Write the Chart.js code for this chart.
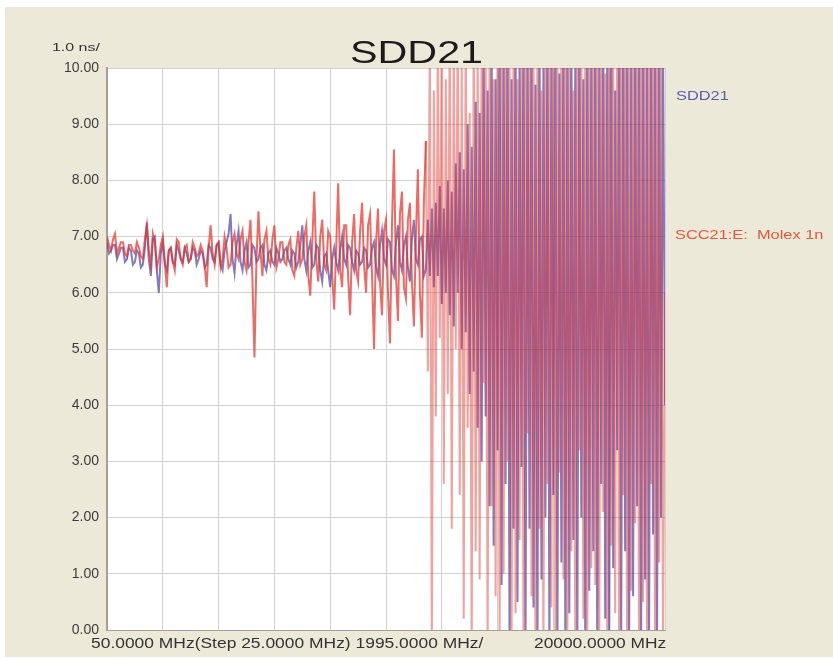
<!DOCTYPE html>
<html>
<head>
<meta charset="utf-8">
<script src="https://cdn.jsdelivr.net/npm/chart.js@4/dist/chart.umd.min.js"></script>
<style>
  html, body { margin: 0; padding: 0; background: #ffffff; }
  #page { position: absolute; left: 5px; top: 7px; width: 828px; height: 650px; background: #ece9d8; }
  #wrap { position: absolute; left: 0; top: 0; width: 833px; height: 659px; }
  .lbl { position: absolute; font-family: "Liberation Sans", Arial, sans-serif; line-height: 1; white-space: pre; transform-origin: left top; }
</style>
</head>
<body>
<div id="page"></div>
<div id="wrap"><canvas id="myChart" width="833" height="659"></canvas></div>
<div class="lbl" id="title" style="left:350px; top:36px; font-size:32px; color:#1e1a1a; transform:scaleX(1.29);">SDD21</div>
<div class="lbl" style="left:52px; top:42px; font-size:11px; color:#333; transform:scaleX(1.45);">1.0 ns/</div>
<div class="lbl" style="left:676px; top:89px; font-size:13px; color:#5a5ab4; transform:scaleX(1.26);">SDD21</div>
<div class="lbl" style="left:675px; top:228px; font-size:13px; color:#e5583f; transform:scaleX(1.26);">SCC21:E:  Molex 1n</div>
<div class="lbl" style="left:91px; top:636px; font-size:14px; color:#333; transform:scaleX(1.245);">50.0000 MHz(Step 25.0000 MHz) 1995.0000 MHz/</div>
<div class="lbl" style="left:534px; top:636px; font-size:14px; color:#333; transform:scaleX(1.24);">20000.0000 MHz</div>
<script>
// sweep: 50 MHz .. 20000 MHz, 1995 MHz per division
const startMHz = 50;
const stopMHz = 20000;
const divMHz = 1995;

// group delay, ns
const scc21 = [
  7.00, 6.85, 6.75, 6.95, 7.05, 6.70, 6.80, 6.90, 6.90, 6.70,
  6.65, 6.85, 6.85, 6.75, 6.70, 6.90, 6.80, 6.65, 6.60, 6.95,
  7.20, 6.75, 6.50, 7.05, 6.90, 6.45, 6.60, 6.85, 7.00, 6.55,
  6.10, 6.75, 6.80, 6.55, 6.40, 6.95, 6.90, 6.60, 6.50, 6.80,
  6.85, 6.55, 6.60, 6.90, 6.80, 6.65, 6.70, 6.85, 6.75, 6.50,
  6.10, 6.80, 7.20, 6.70, 6.50, 6.85, 6.90, 6.45, 6.60, 7.00,
  6.80, 6.45, 6.50, 6.90, 7.05, 6.70, 6.60, 6.95, 7.10, 6.55,
  6.40, 6.90, 7.30, 6.20, 4.85, 6.60, 7.45, 6.75, 6.30, 6.95,
  7.10, 6.60, 6.50, 6.95, 7.20, 6.45, 6.60, 6.90, 6.90, 6.55,
  6.50, 6.85, 6.95, 6.40, 6.30, 6.80, 7.10, 6.50, 6.60, 7.00,
  7.20, 6.30, 5.95, 6.90, 7.80, 6.60, 6.20, 7.00, 7.30, 6.50,
  6.40, 7.10, 7.00, 6.30, 5.70, 6.80, 7.95, 6.40, 6.10, 7.20,
  7.20, 6.30, 5.60, 6.90, 7.40, 6.40, 6.20, 7.10, 7.60, 6.50,
  6.00, 7.20, 7.40, 6.30, 5.00, 6.90, 7.50, 6.20, 5.60, 7.10,
  7.30, 6.00, 5.10, 7.20, 8.55, 6.30, 5.50, 7.40, 7.80, 6.10,
  5.90, 7.30, 7.60, 6.20, 5.40, 7.00, 8.20, 6.00, 5.20, 7.60,
  8.70, 4.60, 10.8, -0.4, 9.60, 3.80, 10.6, 5.20, 11.0, 2.60,
  9.80, 4.20, 11.0, 1.80, 10.4, 5.00, 11.0, 2.40, 10.2, 0.20,
  11.0, 3.60, 9.20, -0.5, 11.0, 1.40, 10.6, 0.90, 11.0, 4.40,
  10.5, -0.5, 11.0, 2.20, 9.80, 0.60, 11.0, -0.5, 10.8, 1.00,
  11.0, 3.00, 10.2, -0.5, 11.0, 0.30, 9.80, 1.60, 11.0, -0.5,
  10.6, 3.50, 11.0, 0.60, 10.4, -0.5, 11.0, 1.80, 9.60, -0.5,
  11.0, 2.60, 10.8, 0.40, 11.0, -0.5, 10.2, 2.80, 11.0, 0.90,
  10.6, -0.5, 11.0, 1.40, 9.60, -0.5, 11.0, 3.20, 10.7, 0.20,
  11.0, -0.5, 10.3, 1.10, 11.0, 0.80, 10.8, -0.5, 11.0, 2.10,
  9.90, -0.5, 11.0, 1.50, 10.5, 0.30, 11.0, -0.5, 10.8, 2.40,
  11.0, -0.5, 10.1, 0.70, 11.0, 1.90, 10.6, -0.5, 11.0, 0.50,
  10.4, -0.5, 11.0, 2.60, 10.9, -0.5, 11.0, 1.20, 10.2, -0.5,
  6.00
];

const sdd21 = [
  6.90, 6.70, 6.75, 6.85, 6.85, 6.60, 6.70, 6.80, 6.80, 6.55,
  6.60, 6.80, 6.75, 6.50, 6.55, 6.75, 6.70, 6.45, 6.50, 6.80,
  7.25, 6.60, 6.30, 6.95, 7.00, 6.40, 6.00, 6.70, 6.90, 6.50,
  6.40, 6.75, 6.80, 6.55, 6.50, 6.85, 6.75, 6.60, 6.55, 6.80,
  6.70, 6.55, 6.60, 6.80, 6.75, 6.50, 6.60, 6.75, 6.70, 6.45,
  6.50, 6.85, 6.80, 6.60, 6.55, 6.85, 6.90, 6.50, 6.40, 6.75,
  6.90, 7.05, 7.40, 6.60, 6.35, 6.85, 7.10, 6.55, 6.40, 6.75,
  6.90, 6.45, 6.50, 6.85, 6.80, 6.55, 6.60, 6.80, 6.85, 6.50,
  6.40, 6.70, 6.75, 6.55, 6.50, 6.80, 6.70, 6.55, 6.60, 6.75,
  6.80, 6.60, 6.50, 6.75, 6.70, 6.45, 6.55, 6.85, 7.20, 6.60,
  6.40, 6.75, 6.90, 6.45, 6.50, 6.85, 6.80, 6.40, 6.20, 6.65,
  6.70, 6.40, 6.10, 6.60, 6.80, 6.55, 6.40, 6.75, 7.00, 6.60,
  6.50, 6.85, 6.80, 6.55, 6.40, 6.75, 6.70, 6.50, 6.55, 6.80,
  6.75, 6.45, 6.50, 6.80, 6.90, 6.45, 6.30, 6.85, 7.10, 6.60,
  6.50, 6.95, 6.90, 6.40, 6.30, 6.90, 7.20, 6.55, 6.40, 6.85,
  7.00, 6.45, 6.20, 6.95, 7.30, 6.60, 6.50, 6.95, 7.00, 6.30,
  6.40, 7.30, 6.30, 7.50, 6.10, 7.60, 6.30, 7.90, 5.80, 7.50,
  6.00, 8.00, 5.60, 7.80, 5.40, 8.30, 6.00, 8.50, 5.00, 8.20,
  5.30, 9.00, 4.20, 8.60, 4.60, 9.40, 3.60, 9.20, 3.00, 10.2,
  3.80, 9.60, 2.20, 10.6, 1.50, 9.80, 3.20, 11.0, 0.80, 10.4,
  2.60, 11.0, -0.5, 9.80, 1.80, 11.0, 0.50, 10.2, 2.90, 11.0,
  -0.5, 10.6, 1.80, 11.0, 0.40, 9.70, -0.5, 11.0, 0.90, 10.2,
  2.00, 11.0, -0.5, 10.5, 2.40, 11.0, -0.5, 9.90, 1.20, 11.0,
  -0.5, 10.8, 0.30, 11.0, 1.60, 10.4, -0.5, 11.0, 2.00, 9.80,
  -0.5, 11.0, 0.70, 10.6, 1.40, 11.0, -0.5, 10.2, 2.60, 11.0,
  0.20, 10.4, -0.5, 11.0, 1.10, 9.60, 3.20, 11.0, -0.5, 10.8,
  1.40, 11.0, -0.5, 10.3, 0.60, 11.0, 2.20, 10.6, -0.5, 11.0,
  0.90, 10.1, -0.5, 11.0, 1.70, 10.7, -0.5, 11.0, 2.00, 10.6,
  4.00
];

const stepMHz = (stopMHz - startMHz) / (sdd21.length - 1);
const freqMHz = sdd21.map((_, i) => startMHz + i * stepMHz);
const xGrid = Array.from({ length: 11 }, (_, k) => startMHz + k * divMHz);

const toPoints = (vals) => vals.map((v, i) => ({ x: freqMHz[i], y: v }));

// past ~6 GHz the traces blow up; draw that part a bit lighter
const wildFrom = 160;

// white plot area on the beige panel
const plotBg = {
  id: "plotBg",
  beforeDraw(chart) {
    const { ctx, chartArea: a } = chart;
    ctx.save();
    ctx.fillStyle = "#ffffff";
    ctx.fillRect(a.left, a.top, a.right - a.left, a.bottom - a.top);
    ctx.restore();
  },
};

const chartDom = document.getElementById("myChart");
new Chart(chartDom, {
  type: "line",
  data: {
    datasets: [
      {
        label: "SCC21:E:  Molex 1n",
        data: toPoints(scc21),
        borderColor: "rgba(228, 50, 40, 0.46)",
        segment: {
          borderColor: (c) => (c.p0DataIndex < wildFrom ? "rgba(228, 50, 40, 0.72)" : "rgba(228, 50, 40, 0.46)"),
        },
        borderWidth: 2,
        borderJoinStyle: "miter",
        pointRadius: 0,
        tension: 0,
        clip: 0,
      },
      {
        label: "SDD21",
        data: toPoints(sdd21),
        borderColor: "rgba(70, 52, 160, 0.66)",
        borderWidth: 2,
        borderJoinStyle: "miter",
        pointRadius: 0,
        tension: 0,
        clip: 0,
      },
    ],
  },
  options: {
    responsive: false,
    animation: false,
    layout: { padding: { left: 0, top: 68, right: 168, bottom: 29 } },
    plugins: { legend: { display: false }, tooltip: { enabled: false } },
    scales: {
      x: {
        type: "linear",
        min: startMHz,
        max: stopMHz,
        afterBuildTicks: (axis) => { axis.ticks = xGrid.map((v) => ({ value: v })); },
        afterFit: (s) => { s.height = 0; },
        ticks: { display: false },
        grid: { color: "#d2d2d2", drawTicks: false },
        border: { color: "#a3a294", width: 1 },
      },
      y: {
        min: 0,
        max: 10,
        afterFit: (s) => { s.width = 107; },
        ticks: {
          stepSize: 1,
          padding: 8,
          color: "#3c3c3c",
          font: { family: "'Liberation Sans', Arial, sans-serif", size: 14 },
          callback: (v) => v.toFixed(2),
        },
        grid: { color: "#d2d2d2", drawTicks: false },
        border: { color: "#a3a294", width: 2 },
      },
    },
  },
  plugins: [plotBg],
});
</script>
</body>
</html>
